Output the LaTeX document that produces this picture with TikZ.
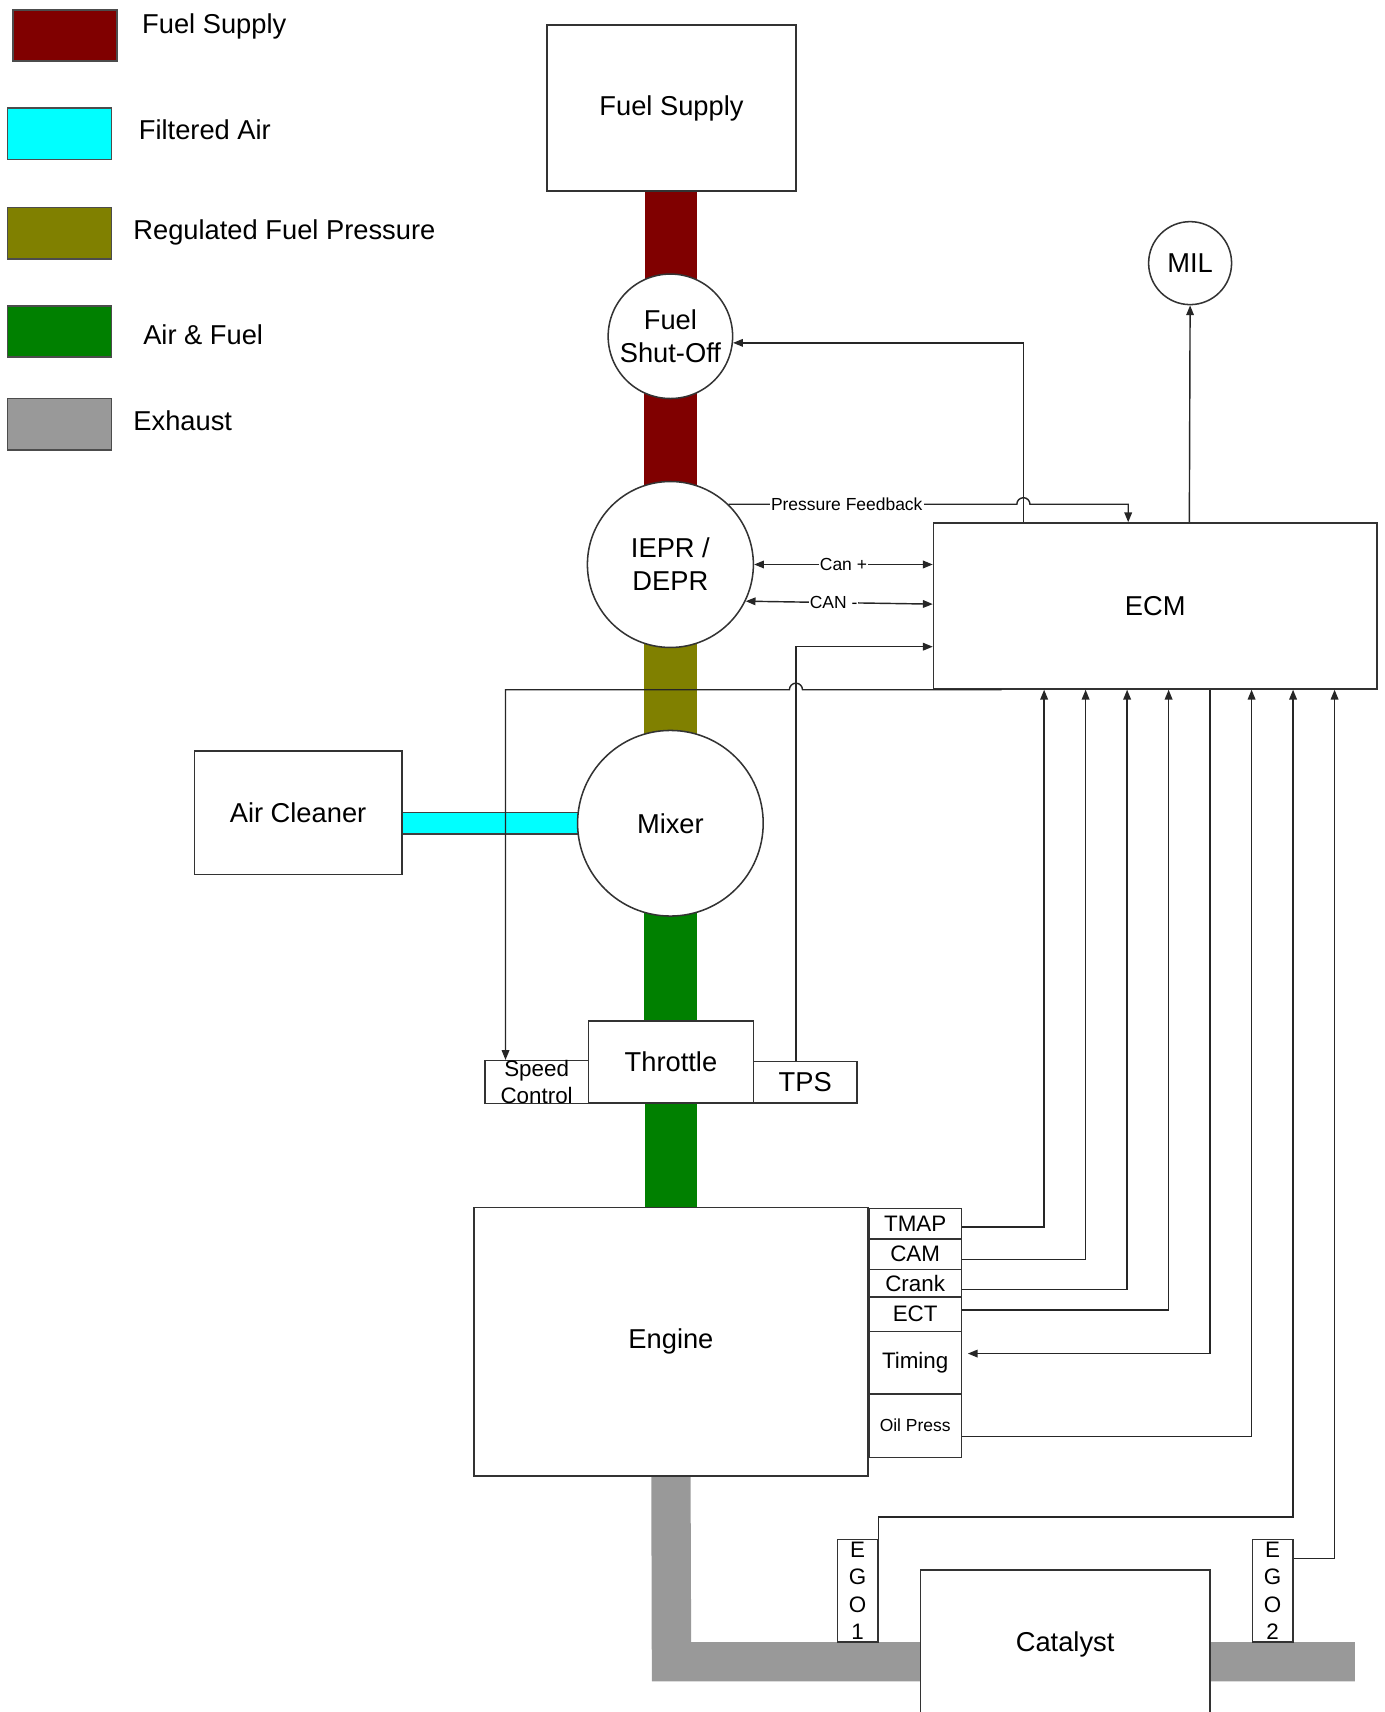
\documentclass[tikz,border=0pt]{standalone}
\usepackage{fontspec}
\setmainfont{Liberation Sans}
\usetikzlibrary{arrows.meta,backgrounds}
\definecolor{fuelred}{RGB}{128,0,0}
\definecolor{airc}{RGB}{0,255,255}
\definecolor{olivec}{RGB}{128,128,0}
\definecolor{greenc}{RGB}{0,128,0}
\definecolor{grayc}{RGB}{153,153,153}
\newcommand\fsMain{\fontsize{25}{30}\selectfont}
\newcommand\fsSmall{\fontsize{20.5}{24}\selectfont}
\newcommand\fsTiny{\fontsize{16}{19}\selectfont}
\begin{document}
\begin{tikzpicture}[x=1pt,y=-1pt,
  box/.style={draw=black!80, line width=1.4pt, fill=white, inner sep=0pt, font=\fsMain, align=center},
  circ/.style={circle, draw=black!80, line width=1.4pt, fill=white, inner sep=0pt, font=\fsMain, align=center},
  sens/.style={box, anchor=north west, minimum width=85pt, font=\fsSmall},
  ego/.style={box, minimum width=37pt, minimum height=94pt, font=\fontsize{20.5}{25.3}\selectfont},
  swatch/.style={draw=black!70, line width=1.5pt},
  legtxt/.style={anchor=west, inner sep=0pt, font=\fsMain},
  line/.style={draw=black!85, line width=1.3pt},
  arr/.style={line, -{Triangle[length=9pt,width=7pt]}},
  dbl/.style={line, {Triangle[length=9pt,width=7pt]}-{Triangle[length=9pt,width=7pt]}},
  lbl/.style={fill=white, inner sep=1pt, font=\fsTiny},
  pipe/.style={draw=none}]
\useasboundingbox (0,0) rectangle (1268,1568);

% legend
\fill[fuelred, swatch] (12,9) rectangle (107,56);
\fill[airc, swatch] (7,99) rectangle (102,146);
\fill[olivec, swatch] (7,190) rectangle (102,237);
\fill[greenc, swatch] (7,280) rectangle (102,327);
\fill[grayc, swatch] (7,365) rectangle (102,412);
\node[legtxt] (l1) at (130,24) {Fuel Supply};
\node[legtxt] (l2) at (127,119) {Filtered Air};
\node[legtxt] (l3) at (122,213) {Regulated Fuel Pressure};
\node[legtxt] (l4) at (131,307) {Air \& Fuel};
\node[legtxt] (l5) at (122,385) {Exhaust};

% main nodes
\node[box, minimum width=228pt, minimum height=152pt] (fs) at (615,99) {Fuel Supply};
\node[circ, minimum size=114pt] (so) at (614,308) {Fuel\\Shut-Off};
\node[circ, minimum size=152pt] (iepr) at (614,517) {IEPR /\\DEPR};
\node[circ, minimum size=170pt] (mix) at (614,754) {Mixer};
\node[box, minimum width=190pt, minimum height=113pt] (ac) at (273,744.5) {Air Cleaner};
\node[box, minimum width=151pt, minimum height=75pt] (thr) at (614.5,972.5) {Throttle};
\node[box, minimum width=95pt, minimum height=38pt, font=\fsSmall] (sc) at (491.5,991) {Speed\\Control};
\node[box, minimum width=95pt, minimum height=38pt] (tps) at (737.5,991) {TPS};
\node[box, minimum width=361pt, minimum height=246pt] (eng) at (614.5,1229) {Engine};
\node[sens, minimum height=28pt] (tmap) at (795,1106) {TMAP};
\node[sens, minimum height=28pt] (cam) at (795,1134) {CAM};
\node[sens, minimum height=25pt] (crank) at (795,1162) {Crank};
\node[sens, minimum height=32pt] (ect) at (795,1187) {ECT};
\node[sens, minimum height=57pt] (tim) at (795,1219) {Timing};
\node[sens, minimum height=58pt, font=\fsTiny] (oil) at (795,1276) {Oil Press};
\node[box, minimum width=406pt, minimum height=152pt] (ecm) at (1058,555) {ECM};
\node[circ, minimum size=76pt] (mil) at (1090,241) {MIL};
\node[box, minimum width=265pt, minimum height=136pt] (cat) at (975.5,1506) {Catalyst};
\node[ego] (ego1) at (785.5,1457) {E\\G\\O\\1};
\node[ego] (ego2) at (1165.5,1457) {E\\G\\O\\2};

% pipes (background)
\begin{scope}[on background layer]
\fill[fuelred] ([xshift=-24pt]fs.south) rectangle ([xshift=24pt,yshift=-6pt]so.north);
\fill[fuelred] ([xshift=-24pt,yshift=6pt]so.south) rectangle ([xshift=24pt,yshift=-6pt]iepr.north);
\fill[olivec] ([xshift=-24pt,yshift=6pt]iepr.south) rectangle ([xshift=24pt,yshift=-6pt]mix.north);
\fill[greenc] ([xshift=-24pt,yshift=6pt]mix.south) rectangle ([xshift=24pt]thr.north);
\fill[greenc] ([xshift=-24pt]thr.south) rectangle ([xshift=24pt]eng.north);
\filldraw[fill=airc, draw=black!75, line width=1.3pt] ([yshift=10pt]mix.west -| ac.east) rectangle ([yshift=-10pt,xshift=5pt]mix.west);
\fill[grayc] ([xshift=-18pt]eng.south) -- ([xshift=18pt]eng.south) -- (633,1504) -- (1241,1504) -- (1241,1540) -- (597,1540) -- cycle;
\end{scope}

% ECM coordinates
\coordinate (ecm-so) at ([xshift=83pt]ecm.north west);
\coordinate (ecm-pf) at ([xshift=179pt]ecm.north west);
\coordinate (ecm-mil) at ([xshift=235pt]ecm.north west);
\coordinate (ecm-canm) at ([yshift=-75pt]ecm.north west);
\coordinate (ecm-tps) at ([yshift=-114pt]ecm.north west);
\coordinate (ecm-sc) at ([xshift=63pt]ecm.south west);
\coordinate (ecm-tmap) at ([xshift=102pt]ecm.south west);
\coordinate (ecm-cam) at ([xshift=140pt]ecm.south west);
\coordinate (ecm-crank) at ([xshift=178pt]ecm.south west);
\coordinate (ecm-ect) at ([xshift=216pt]ecm.south west);
\coordinate (ecm-tim) at ([xshift=254pt]ecm.south west);
\coordinate (ecm-oil) at ([xshift=292pt]ecm.south west);
\coordinate (ecm-ego1) at ([xshift=330pt]ecm.south west);
\coordinate (ecm-ego2) at ([xshift=368pt]ecm.south west);
\coordinate (tps-top) at ([xshift=-8.5pt]tps.north);
\coordinate (sc-top) at ([xshift=-28.5pt]sc.north);

% connectors
\draw[arr] (ecm-so) |- (so.-6);
\draw[arr] (ecm-mil) -- (mil.south);
\draw[arr] (iepr.46) -- node[lbl, pos=0.41] {Pressure Feedback} ([xshift=-6pt]iepr.46 -| ecm-so) arc[start angle=180, end angle=0, radius=6pt] -- (iepr.46 -| ecm-pf) -- (ecm-pf);
\draw[dbl] (iepr.east) -- node[lbl] {Can +} (iepr.east -| ecm.west);
\draw[dbl] (iepr.-26.6) -- node[lbl, pos=0.47] {CAN -} (ecm-canm);
\draw[arr] (tps-top) |- (ecm-tps);
\draw[arr] (ecm-sc) -- ([xshift=6pt]ecm-sc -| tps-top) arc[start angle=0, end angle=180, radius=6pt] -- (ecm-sc -| sc-top) -- (sc-top);
\draw[arr] ([yshift=-3pt]tmap.east) -| (ecm-tmap);
\draw[arr] ([yshift=-5pt]cam.east) -| (ecm-cam);
\draw[arr] ([yshift=-6pt]crank.east) -| (ecm-crank);
\draw[arr] ([yshift=4pt]ect.east) -| (ecm-ect);
\draw[arr, shorten >=5pt] (ecm-tim) |- ([yshift=8.5pt]tim.east);
\draw[arr] ([yshift=-10pt]oil.east) -| (ecm-oil);
\draw[arr] (ego1.north east) -- ++(0,-20) -| (ecm-ego1);
\draw[arr] ([yshift=-18pt]ego2.north east) -| (ecm-ego2);
\end{tikzpicture}
\end{document}
